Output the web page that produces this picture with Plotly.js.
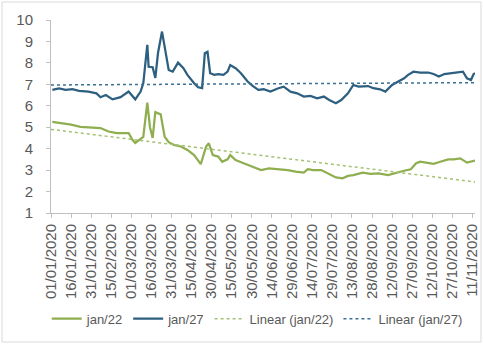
<!DOCTYPE html>
<html>
<head>
<meta charset="utf-8">
<script src="https://cdn.plot.ly/plotly-3.0.1.min.js"></script>
<style>
html,body{margin:0;padding:0;background:#fff;}
#chart{width:484px;height:345px;}
</style>
</head>
<body>
<div id="chart"></div>
<script>
// jan/22 series
const dates22 = ["2020-01-02","2020-01-08","2020-01-16","2020-01-23","2020-01-31","2020-02-07","2020-02-13","2020-02-19","2020-02-28","2020-03-02","2020-03-04","2020-03-08","2020-03-10","2020-03-13","2020-03-15","2020-03-17","2020-03-19","2020-03-23","2020-03-26","2020-03-29","2020-04-02","2020-04-07","2020-04-12","2020-04-17","2020-04-22","2020-04-26","2020-04-28","2020-05-01","2020-05-05","2020-05-08","2020-05-12","2020-05-14","2020-05-18","2020-05-24","2020-05-31","2020-06-06","2020-06-12","2020-06-19","2020-06-26","2020-07-02","2020-07-08","2020-07-11","2020-07-15","2020-07-21","2020-07-26","2020-08-01","2020-08-06","2020-08-10","2020-08-14","2020-08-21","2020-08-27","2020-09-02","2020-09-09","2020-09-15","2020-09-21","2020-09-26","2020-09-30","2020-10-03","2020-10-09","2020-10-13","2020-10-18","2020-10-24","2020-10-28","2020-11-02","2020-11-07","2020-11-11","2020-11-13"];
const values22 = [5.25,5.20,5.12,5.02,5.00,4.96,4.80,4.73,4.73,4.40,4.27,4.45,4.55,6.15,5.00,4.50,5.70,5.60,4.55,4.30,4.17,4.10,3.94,3.70,3.28,4.10,4.25,3.70,3.63,3.39,3.50,3.70,3.47,3.32,3.16,3.00,3.08,3.04,3.00,2.93,2.88,3.04,3.00,3.00,2.85,2.66,2.62,2.73,2.77,2.88,2.82,2.85,2.77,2.88,2.97,3.04,3.32,3.39,3.32,3.29,3.39,3.50,3.50,3.55,3.35,3.39,3.44];

// jan/27 series
const dates27 = ["2020-01-02","2020-01-07","2020-01-12","2020-01-17","2020-01-22","2020-01-29","2020-02-04","2020-02-07","2020-02-11","2020-02-16","2020-02-22","2020-02-28","2020-03-04","2020-03-08","2020-03-10","2020-03-13","2020-03-14","2020-03-17","2020-03-19","2020-03-21","2020-03-24","2020-03-27","2020-03-29","2020-04-01","2020-04-05","2020-04-09","2020-04-12","2020-04-17","2020-04-20","2020-04-23","2020-04-25","2020-04-27","2020-04-29","2020-05-02","2020-05-05","2020-05-09","2020-05-12","2020-05-14","2020-05-18","2020-05-22","2020-05-27","2020-05-31","2020-06-04","2020-06-08","2020-06-13","2020-06-19","2020-06-23","2020-06-28","2020-07-03","2020-07-08","2020-07-13","2020-07-18","2020-07-23","2020-07-27","2020-08-01","2020-08-05","2020-08-10","2020-08-14","2020-08-18","2020-08-25","2020-08-29","2020-09-03","2020-09-07","2020-09-12","2020-09-17","2020-09-21","2020-09-24","2020-09-28","2020-10-03","2020-10-09","2020-10-13","2020-10-17","2020-10-21","2020-10-26","2020-10-31","2020-11-04","2020-11-07","2020-11-10","2020-11-12","2020-11-13"];
const values27 = [6.74,6.81,6.74,6.78,6.70,6.66,6.58,6.40,6.50,6.30,6.40,6.66,6.30,6.66,7.05,8.84,7.82,7.80,7.30,8.46,9.46,8.29,7.67,7.59,8.01,7.75,7.44,7.05,6.86,6.82,8.45,8.52,7.52,7.44,7.48,7.44,7.59,7.90,7.75,7.52,7.13,6.92,6.74,6.77,6.66,6.82,6.89,6.66,6.58,6.43,6.46,6.35,6.43,6.27,6.12,6.27,6.58,6.97,6.89,6.92,6.82,6.77,6.66,6.97,7.13,7.28,7.44,7.59,7.55,7.55,7.48,7.36,7.48,7.52,7.55,7.59,7.28,7.20,7.48,7.52];

// linear trend end values
const trendDates = ["2020-01-01","2020-11-13"];
const trend22 = [4.90, 2.45];
const trend27 = [6.97, 7.08];

// x tick labels (dd/mm/yyyy)
const tickLabels = ["01/01/2020","16/01/2020","31/01/2020","15/02/2020","01/03/2020","16/03/2020","31/03/2020","15/04/2020","30/04/2020","15/05/2020","30/05/2020","14/06/2020","29/06/2020","14/07/2020","29/07/2020","13/08/2020","28/08/2020","12/09/2020","27/09/2020","12/10/2020","27/10/2020","11/11/2020"];
const yTicks = [1,2,3,4,5,6,7,8,9,10];

const toIso = s => { const p = s.split("/"); return p[2] + "-" + p[1] + "-" + p[0]; };
const tickVals = tickLabels.map(toIso);

const green = "#8fae4f", blue = "#2d5f80";
const traces = [
  { x: dates22, y: values22, name: "jan/22", mode: "lines", line: { color: green, width: 2.25 } },
  { x: dates27, y: values27, name: "jan/27", mode: "lines", line: { color: blue, width: 2.25 } },
  { x: trendDates, y: trend22, name: "Linear (jan/22)", mode: "lines", line: { color: "#a3c173", width: 1.5, dash: "dot" } },
  { x: trendDates, y: trend27, name: "Linear (jan/27)", mode: "lines", line: { color: "#3b6f94", width: 1.5, dash: "dot" } }
];

const layout = {
  width: 484, height: 345,
  margin: { l: 51, r: 9, t: 20, b: 132 },
  paper_bgcolor: "#fff", plot_bgcolor: "#fff",
  font: { family: "Liberation Sans, Arial, sans-serif", color: "#595959", size: 13 },
  showlegend: true,
  legend: { orientation: "h", x: -0.01, xanchor: "left", y: -0.47, yanchor: "top",
            font: { size: 13, color: "#595959" }, itemwidth: 30, tracegroupgap: 0 },
  xaxis: {
    type: "date", range: ["2020-01-01", "2020-11-13"],
    tickvals: tickVals, ticktext: tickLabels, tickangle: -90,
    showgrid: false, zeroline: false, showline: true, linecolor: "#bfbfbf", linewidth: 1,
    ticks: "outside", ticklen: 4, tickcolor: "#bfbfbf",
    tickfont: { size: 15, color: "#595959" }
  },
  yaxis: {
    range: [1, 10], tickvals: yTicks, ticktext: yTicks.map(String),
    showgrid: false, zeroline: false, showline: true, linecolor: "#bfbfbf", linewidth: 1,
    ticks: "outside", ticklen: 4, tickcolor: "#bfbfbf", ticklabelstandoff: 10,
    tickfont: { size: 15, color: "#595959" }
  },
  shapes: [
    { type: "rect", xref: "paper", yref: "paper",
      x0: (2 - 51) / 424, x1: (481 - 51) / 424, y0: (213 - 342) / 193, y1: (213 - 2) / 193,
      line: { color: "#d9d9d9", width: 1 }, fillcolor: "rgba(0,0,0,0)", layer: "below" }
  ]
};

Plotly.newPlot("chart", traces, layout, { displayModeBar: false, staticPlot: true });
</script>
</body>
</html>
